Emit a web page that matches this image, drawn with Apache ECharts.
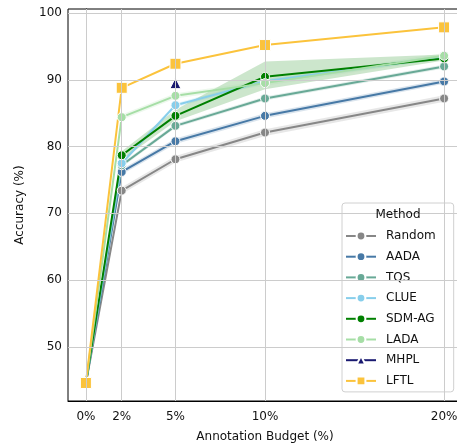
<!DOCTYPE html>
<html>
<head>
<meta charset="utf-8">
<script src="https://cdn.jsdelivr.net/npm/echarts@6/dist/echarts.min.js"></script>
<style>
  html, body { margin: 0; padding: 0; background: #fff; }
  #chart { width: 457px; height: 443px; }
</style>
</head>
<body>
<div id="chart"></div>
<script>
const budgets = [0, 2, 5, 10, 20];
const xTicks = [0, 2, 5, 10, 20];
const yTicks = [50, 60, 70, 80, 90, 100];

const methods = ["Random", "AADA", "TQS", "CLUE", "SDM-AG", "LADA", "MHPL", "LFTL"];
const colors = ["#878787", "#4779a6", "#68a996", "#87ceeb", "#008000", "#a6dea6", "#191970", "#fbc33c"];
const symbols = ["circle", "circle", "circle", "circle", "circle", "circle", "triangle", "rect"];

const random = [44.6, 73.4, 78.1, 82.1, 87.2];
const aada = [44.6, 76.2, 80.8, 84.6, 89.75];
const tqs = [44.6, 77.2, 83.1, 87.2, 92.0];
const clue = [44.6, 77.5, 86.2, 89.8, 93.4];
const sdmag = [44.6, 78.7, 84.6, 90.45, 93.2];
const lada = [44.6, 84.4, 87.6, 89.5, 93.6];
const mhpl = [null, null, 89.5, null, null];
const lftl = [44.6, 88.8, 92.4, 95.2, 97.85];

// confidence bands (lower / upper)
const randomLo = [44.6, 72.9, 77.6, 81.6, 86.7];
const randomHi = [44.6, 73.9, 78.6, 82.6, 87.7];
const aadaLo = [44.6, 75.8, 80.4, 84.2, 89.4];
const aadaHi = [44.6, 76.6, 81.2, 85.0, 90.1];
const tqsLo = [44.6, 76.9, 82.8, 86.9, 91.7];
const tqsHi = [44.6, 77.5, 83.4, 87.5, 92.3];
const clueLo = [44.6, 77.2, 85.9, 89.5, 93.1];
const clueHi = [44.6, 77.8, 86.5, 90.1, 93.7];
const sdmagLo = [44.6, 78.0, 83.8, 88.6, 92.9];
const sdmagHi = [44.6, 79.3, 85.5, 92.75, 93.8];
const ladaLo = [44.6, 84.0, 87.2, 89.1, 93.2];
const ladaHi = [44.6, 84.8, 88.0, 89.9, 94.0];

const values = [random, aada, tqs, clue, sdmag, lada, mhpl, lftl];
const bands = [
  [randomLo, randomHi], [aadaLo, aadaHi], [tqsLo, tqsHi], [clueLo, clueHi],
  [sdmagLo, sdmagHi], [ladaLo, ladaHi], null, null
];

const font = "DejaVu Sans, sans-serif";
const chart = echarts.init(document.getElementById("chart"), null, { renderer: "canvas" });

function hexAlpha(hex, a) {
  const n = parseInt(hex.slice(1), 16);
  return `rgba(${(n >> 16) & 255},${(n >> 8) & 255},${n & 255},${a})`;
}

const bandSeries = bands.map((band, i) => band && {
  type: "custom",
  name: methods[i] + " band",
  z: 1,
  silent: true,
  animation: false,
  data: [0],
  renderItem(params, api) {
    const [lo, hi] = band;
    const pts = budgets.map((x, k) => api.coord([x, hi[k]]));
    for (let k = budgets.length - 1; k >= 0; k--) pts.push(api.coord([budgets[k], lo[k]]));
    return {
      type: "polygon",
      shape: { points: pts },
      style: { fill: hexAlpha(colors[i], 0.2) }
    };
  }
}).filter(Boolean);

const lineSeries = methods.map((name, i) => ({
  type: "line",
  name,
  z: 3,
  data: budgets.map((x, k) => [x, values[i][k]]).filter((p) => p[1] != null),
  symbol: symbols[i],
  symbolSize: symbols[i] === "circle" ? 9 : 11,
  showAllSymbol: true,
  animation: false,
  lineStyle: { color: colors[i], width: 2 },
  itemStyle: {
    color: colors[i],
    borderColor: "#fff",
    borderWidth: 1
  },
  emphasis: { disabled: true }
}));

const gridSeries = {
  type: "line",
  name: "grid",
  z: 0,
  silent: true,
  animation: false,
  data: [[0, 44.6]],
  showSymbol: false,
  lineStyle: { width: 0 },
  markLine: {
    silent: true,
    animation: false,
    symbol: ["none", "none"],
    label: { show: false },
    lineStyle: { color: "#cccccc", width: 1, type: "solid" },
    emphasis: { disabled: true },
    data: [
      ...yTicks.map((v) => ({ yAxis: v })),
      ...xTicks.map((v) => ({ xAxis: v }))
    ]
  }
};

chart.setOption({
  backgroundColor: "#fff",
  animation: false,
  textStyle: { fontFamily: font },
  grid: {
    left: 68,
    right: -5,
    top: 9,
    bottom: 42,
    outerBoundsMode: "none",
    containLabel: false,
    show: true,
    borderColor: "#000",
    borderWidth: 1,
    backgroundColor: "transparent"
  },
  xAxis: {
    type: "value",
    min: -1,
    max: 21,
    name: "Annotation Budget (%)",
    nameLocation: "middle",
    nameGap: 30,
    nameTextStyle: { fontSize: 12, color: "#111", fontFamily: font },
    axisLine: { show: true, lineStyle: { color: "#000", width: 1 } },
    axisTick: { show: false },
    splitLine: { show: false },
    axisLabel: {
      customValues: xTicks,
      formatter: (v) => v + "%",
      fontSize: 12,
      color: "#111",
      margin: 10,
      fontFamily: font
    }
  },
  yAxis: {
    type: "value",
    min: 41.9,
    max: 100.6,
    name: "Accuracy (%)",
    nameLocation: "middle",
    nameGap: 42,
    nameTextStyle: { fontSize: 12, color: "#111", fontFamily: font },
    axisLine: { show: true, lineStyle: { color: "#000", width: 1 } },
    axisTick: {
      show: true,
      customValues: yTicks,
      length: 4,
      lineStyle: { color: "#000", width: 1 }
    },
    splitLine: { show: false },
    axisLabel: {
      customValues: yTicks,
      fontSize: 12,
      color: "#111",
      margin: 6,
      fontFamily: font
    }
  },
  legend: {
    orient: "vertical",
    left: 342,
    top: 203,
    padding: [27, 18, 5, 3],
    itemWidth: 30,
    itemHeight: 11,
    itemGap: 8.7,
    backgroundColor: "rgba(255,255,255,0.8)",
    borderColor: "#d0d0d0",
    borderWidth: 1,
    borderRadius: 3,
    data: methods,
    selectedMode: false,
    textStyle: {
      fontSize: 12,
      color: "#111",
      fontFamily: font,
      padding: [0, 0, 0, 5]
    }
  },
  graphic: [{
    type: "text",
    x: 398,
    y: 215,
    z: 100,
    style: {
      text: "Method",
      font: "12px DejaVu Sans",
      fill: "#111",
      textAlign: "center",
      textVerticalAlign: "middle"
    }
  }],
  series: [gridSeries, ...bandSeries, ...lineSeries]
});
</script>
</body>
</html>
